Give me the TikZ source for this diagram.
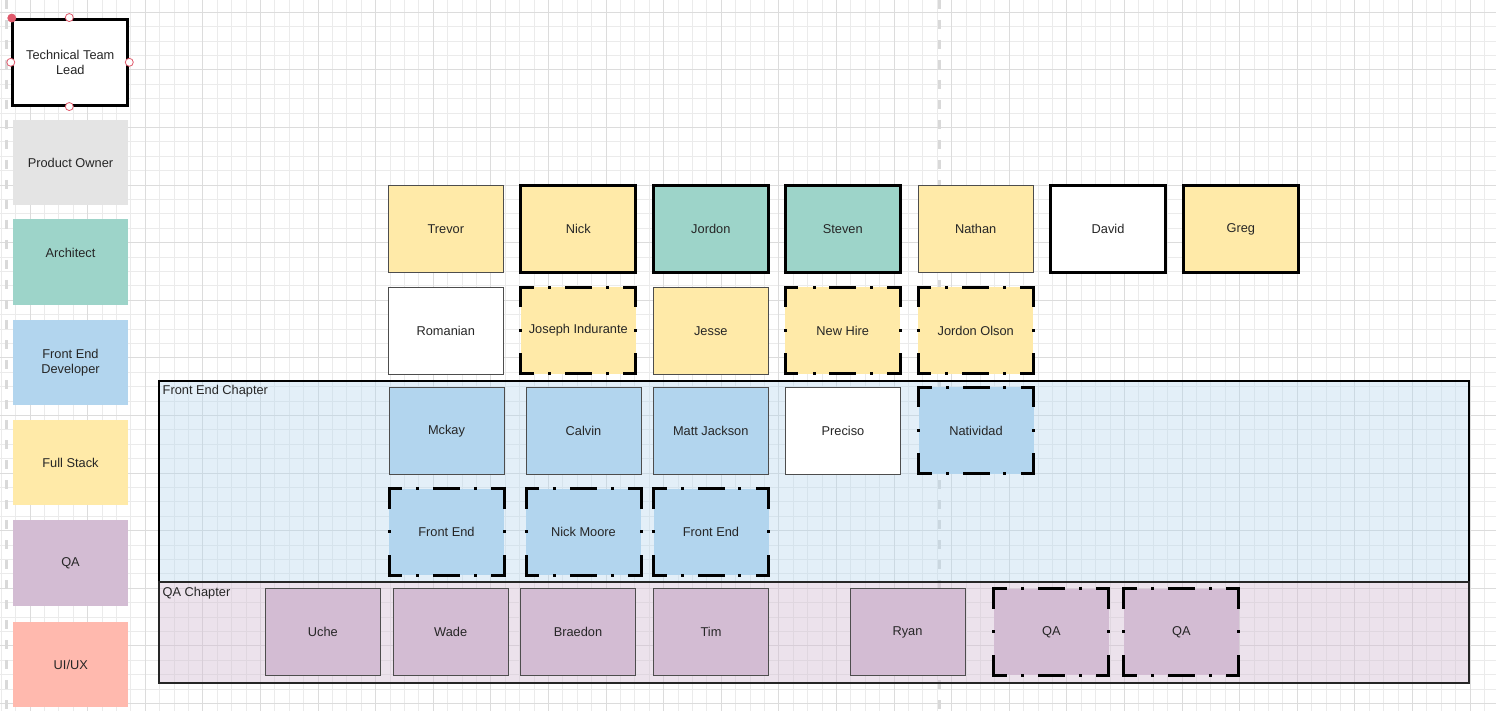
\documentclass[tikz,border=0pt]{standalone}
\usepackage{fontspec}
\setmainfont{Liberation Sans}
\definecolor{gridminor}{HTML}{EBEBEB}
\definecolor{gridmajor}{HTML}{DCDCDC}
\definecolor{guidegray}{HTML}{D9D9D9}
\definecolor{txt}{HTML}{262626}
\definecolor{edge}{HTML}{4D4D4D}
\definecolor{fullstack}{HTML}{FFEAA8}
\definecolor{architect}{HTML}{9DD4C9}
\definecolor{frontend}{HTML}{B2D5EE}
\definecolor{qa}{HTML}{D3BCD3}
\definecolor{uiux}{HTML}{FFB9AE}
\definecolor{po}{HTML}{E4E4E4}
\definecolor{handlered}{HTML}{E0596B}
\newcommand\lbl{\fontsize{12.8}{15.4}\selectfont}
% dash-dot frame drawn edge by edge so every corner carries a dash
\newcommand\ddframe[1]{%
  \draw[ddh] (#1.north west) -- (#1.north east);
  \draw[ddh] (#1.south west) -- (#1.south east);
  \draw[ddv] (#1.north west) -- (#1.south west);
  \draw[ddv] (#1.north east) -- (#1.south east);}
\begin{document}
\begin{tikzpicture}[x=1pt,y=-1pt,
  card/.style={rectangle, minimum width=115pt, minimum height=86.5pt,
    inner sep=0pt, outer sep=0pt, font=\lbl, text=txt, align=center},
  plainbox/.style={card, draw=edge, line width=0.8pt},
  boldbox/.style={card, draw=black, line width=3pt},
  ddbox/.style={card},
  ddh/.style={line width=3pt, line cap=rect, draw=black,
    dash pattern=on 11.5pt off 17.25pt on 0.01pt off 16.75pt on 24pt off 16.75pt on 0.01pt off 17.25pt on 20pt off 20pt},
  ddv/.style={line width=3pt, line cap=rect, draw=black,
    dash pattern=on 18.5pt off 24.5pt on 0.01pt off 24.5pt on 30pt off 10pt},
  legend/.style={card, minimum height=85.5pt},
  chapter/.style={rectangle, inner sep=0pt, outer sep=0pt,
    minimum width=1310pt},
  chaplabel/.style={font=\lbl, text=txt, inner sep=0pt, anchor=base west},
  handle/.style={circle, minimum size=8pt, inner sep=0pt, draw=handlered,
    fill=white, line width=0.8pt},
  guide/.style={draw=guidegray, line width=3pt, dash pattern=on 9.4pt off 10.6pt}
]
\useasboundingbox (0,0) rectangle (1496,711);
\fill[white] (0,0) rectangle (1496,711);

% canvas grid
\foreach \i in {0,...,103} \draw[gridminor, line width=0.9pt] ({1.3+14.4*\i},0) -- ({1.3+14.4*\i},711);
\foreach \i in {0,...,48} \draw[gridminor, line width=0.9pt] (0,{12.3+14.4*\i}) -- (1496,{12.3+14.4*\i});
\foreach \i in {0,...,25} \draw[gridmajor, line width=1pt] ({30.1+57.6*\i},0) -- ({30.1+57.6*\i},711);
\foreach \i in {0,...,12} \draw[gridmajor, line width=1pt] (0,{12.3+57.6*\i}) -- (1496,{12.3+57.6*\i});

% page guides
\draw[guide] (6.5,0) -- (6.5,711);
\draw[guide] (939.3,0) -- (939.3,711);

% chapters
\node[chapter, minimum height=201pt, fill=frontend, fill opacity=0.36, draw=black, draw opacity=1, line width=1.3pt] (feChapter) at (814,481.5) {};
\node[chapter, minimum height=101pt, fill=qa, fill opacity=0.42, draw=black!85, draw opacity=1, line width=2pt] (qaChapter) at (814,632.5) {};
\node[chaplabel] (feLabel) at ([shift={(3.5,13)}]feChapter.north west) {Front End Chapter};
\node[chaplabel] (qaLabel) at ([shift={(3.5,14)}]qaChapter.north west) {QA Chapter};

% legend
\node[boldbox, fill=white] (lgLead) at (70.3,62.3) {Technical Team\\Lead};
\node[legend, fill=po] (lgPO) at (70.5,162.5) {Product Owner};
\node[legend, fill=architect] (lgArch) at (70.5,262) {};
\node[font=\lbl, text=txt, inner sep=0pt] (lgArchText) at ([yshift=9pt]lgArch.center) {Architect};
\node[legend, fill=frontend] (lgFE) at (70.5,362.5) {Front End\\Developer};
\node[legend, fill=fullstack] (lgFS) at (70.5,462.5) {Full Stack};
\node[legend, fill=qa] (lgQA) at (70.5,563) {QA};
\node[legend, fill=uiux] (lgUX) at (70.8,664.5) {UI/UX};

% selection handles on the lead box
\node[handle, fill=handlered] (hNW) at ([shift={(-1,-1)}]lgLead.north west) {};
\node[handle] (hN) at ([shift={(-1,-1.5)}]lgLead.north) {};
\node[handle] (hW) at ([shift={(-2,0)}]lgLead.west) {};
\node[handle] (hE) at ([shift={(1.5,0)}]lgLead.east) {};
\node[handle] (hS) at ([shift={(-1,1)}]lgLead.south) {};

% row 1
\node[plainbox, fill=fullstack] (trevor) at (445.8,229) {Trevor};
\node[boldbox, fill=fullstack] (nick) at (578.3,229) {Nick};
\node[boldbox, fill=architect] (jordon) at (710.8,229) {Jordon};
\node[boldbox, fill=architect] (steven) at (842.8,229) {Steven};
\node[plainbox, fill=fullstack] (nathan) at (975.7,229) {Nathan};
\node[boldbox, fill=white] (david) at (1108,229) {David};
\node[boldbox, fill=fullstack] (greg) at (1240.8,229) {Greg};

% row 2
\node[plainbox, fill=white] (romanian) at (445.8,331) {Romanian};
\node[ddbox, fill=fullstack] (joseph) at (578.3,330.5) {Joseph Indurante};
\node[plainbox, fill=fullstack] (jesse) at (710.8,331) {Jesse};
\node[ddbox, fill=fullstack] (newhire) at (842.8,330.5) {New Hire};
\node[ddbox, fill=fullstack] (olson) at (975.7,330.5) {Jordon Olson};
\ddframe{joseph}\ddframe{newhire}\ddframe{olson}

% row 3
\node[plainbox, fill=frontend] (mckay) at (446.5,430.7) {Mckay};
\node[plainbox, fill=frontend] (calvin) at (583.5,430.7) {Calvin};
\node[plainbox, fill=frontend] (mattj) at (710.7,430.7) {Matt Jackson};
\node[plainbox, fill=white] (preciso) at (843,430.7) {Preciso};
\node[ddbox, fill=frontend] (natividad) at (976,430.7) {Natividad};
\ddframe{natividad}

% row 4
\node[ddbox, fill=frontend] (feOne) at (446.5,532) {Front End};
\node[ddbox, fill=frontend] (nickmoore) at (583.5,532) {Nick Moore};
\node[ddbox, fill=frontend] (feTwo) at (711,532) {Front End};
\ddframe{feOne}\ddframe{nickmoore}\ddframe{feTwo}

% row 5
\node[plainbox, fill=qa] (uche) at (322.8,632) {Uche};
\node[plainbox, fill=qa] (wade) at (450.7,632) {Wade};
\node[plainbox, fill=qa] (braedon) at (578,632) {Braedon};
\node[plainbox, fill=qa] (tim) at (711,632) {Tim};
\node[plainbox, fill=qa] (ryan) at (907.5,632) {Ryan};
\node[ddbox, fill=qa] (qaOne) at (1051.3,632) {QA};
\node[ddbox, fill=qa] (qaTwo) at (1181.3,632) {QA};
\ddframe{qaOne}\ddframe{qaTwo}
\end{tikzpicture}
\end{document}
